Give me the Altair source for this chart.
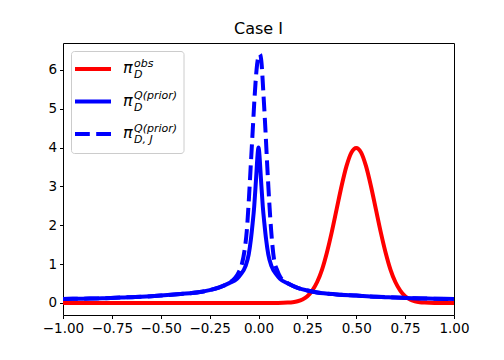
import altair as alt
import pandas as pd

# ---- data ----
x_obs = [-1.0, -0.5, 0.0, 0.1, 0.15, 0.175, 0.2, 0.225, 0.25, 0.275, 0.3, 0.325, 0.35, 0.375, 0.4,
         0.425, 0.45, 0.475, 0.5, 0.525, 0.55, 0.575, 0.6, 0.625, 0.65, 0.675, 0.7, 0.725, 0.75,
         0.775, 0.8, 0.825, 0.85, 0.9, 1.0]
y_obs = [0.0, 0.0, 0.0, 0.001, 0.009, 0.02, 0.044, 0.09, 0.175, 0.32, 0.54, 0.86, 1.30, 1.83, 2.42,
         3.01, 3.52, 3.87, 3.99, 3.87, 3.52, 3.01, 2.42, 1.83, 1.30, 0.86, 0.54, 0.32, 0.175,
         0.09, 0.044, 0.02, 0.009, 0.001, 0.0]

x_prior = [-1.0, -0.9, -0.8, -0.7, -0.6, -0.5, -0.4, -0.3, -0.25, -0.2, -0.15, -0.11, -0.09, -0.067,
           -0.05, -0.039, -0.03, -0.022, -0.015, -0.01, -0.005, 0.0, 0.005, 0.01, 0.015, 0.022, 0.03,
           0.039, 0.05, 0.067, 0.09, 0.11, 0.15, 0.2, 0.25, 0.3, 0.4, 0.5, 0.6, 0.7, 0.8, 0.9, 1.0]
y_prior = [0.10, 0.11, 0.12, 0.14, 0.16, 0.19, 0.23, 0.28, 0.33, 0.40, 0.51, 0.62, 0.74, 0.94,
           1.25, 1.63, 2.05, 2.48, 3.0, 3.4, 3.8, 4.0, 3.8, 3.4, 3.0, 2.48, 2.05,
           1.63, 1.25, 0.94, 0.74, 0.62, 0.50, 0.39, 0.32, 0.27, 0.22, 0.19, 0.16, 0.14, 0.12, 0.11, 0.10]

x_priorJ = [-1.0, -0.9, -0.8, -0.7, -0.6, -0.5, -0.4, -0.3, -0.25, -0.2, -0.15, -0.12, -0.1, -0.085,
            -0.07, -0.06, -0.05, -0.04, -0.03, -0.02, -0.01, 0.0, 0.007, 0.015, 0.025, 0.035, 0.045,
            0.055, 0.065, 0.08, 0.095, 0.11, 0.13, 0.15, 0.2, 0.25, 0.3, 0.4, 0.5, 0.6, 0.7, 0.8, 0.9, 1.0]
y_priorJ = [0.10, 0.11, 0.12, 0.14, 0.16, 0.19, 0.23, 0.28, 0.33, 0.40, 0.52, 0.64, 0.80, 1.0,
            1.4, 1.85, 2.6, 3.5, 4.4, 5.3, 6.0, 6.35, 6.4, 6.2, 5.4, 4.5, 3.5,
            2.6, 1.85, 1.1, 0.85, 0.68, 0.57, 0.51, 0.39, 0.32, 0.27, 0.22, 0.19, 0.16, 0.14, 0.12, 0.11, 0.10]

x_ticks = [-1.0, -0.75, -0.5, -0.25, 0.0, 0.25, 0.5, 0.75, 1.0]
y_ticks = [0, 1, 2, 3, 4, 5, 6]

title_text = "Case I"
legend_sup = ["obs", "Q(prior)", "Q(prior)"]
legend_sub = ["D", "D", "D, J"]
legend_colors = ["#ff0000", "#0000ff", "#0000ff"]

# ---- chart ----
FONT = "DejaVu Sans"
xscale = alt.Scale(domain=[-1, 1], nice=False, zero=False)
yscale = alt.Scale(domain=[-0.31, 6.69], nice=False, zero=False)
xaxis = alt.Axis(values=x_ticks, format=".2f", title=None, labelOverlap=False, labelBound=False,
                 labelFlush=False)
yaxis = alt.Axis(values=y_ticks, format="d", title=None, labelOverlap=False)


def curve(xs, ys, color, dash=None):
    kw = dict(color=color, strokeWidth=4, interpolate="monotone", clip=True)
    if dash:
        kw["strokeDash"] = dash
    df = pd.DataFrame({"x": xs, "y": ys})
    return alt.Chart(df).mark_line(**kw).encode(
        x=alt.X("x:Q", scale=xscale, axis=xaxis),
        y=alt.Y("y:Q", scale=yscale, axis=yaxis),
    )


layers = [
    curve(x_obs, y_obs, "#ff0000"),
    curve(x_prior, y_prior, "#0000ff"),
    curve(x_priorJ, y_priorJ, "#0000ff", [14.8, 6.4]),
]

one = pd.DataFrame({"a": [0]})
layers.append(
    alt.Chart(one).mark_rect(fill="white", fillOpacity=0.8, stroke="#cccccc", strokeWidth=1,
                             cornerRadius=3).encode(
        x=alt.value(8.5), x2=alt.value(121), y=alt.value(8.5), y2=alt.value(110.5))
)

row_y = [26, 58.5, 91]
for i in range(3):
    ry = row_y[i]
    rule_kw = dict(color=legend_colors[i], strokeWidth=4)
    if i == 2:
        rule_kw["strokeDash"] = [14.8, 6.4]
    layers.append(alt.Chart(one).mark_rule(**rule_kw).encode(
        x=alt.value(12), x2=alt.value(48), y=alt.value(ry)))
    layers.append(alt.Chart(one).mark_text(
        text="π", font=FONT, fontSize=16, fontStyle="italic", align="left", baseline="alphabetic",
        color="black").encode(x=alt.value(60), y=alt.value(ry + 4.3)))
    layers.append(alt.Chart(one).mark_text(
        text=legend_sup[i], font=FONT, fontSize=11, fontStyle="italic", align="left",
        baseline="alphabetic", color="black").encode(x=alt.value(71), y=alt.value(ry - 2.2)))
    layers.append(alt.Chart(one).mark_text(
        text=legend_sub[i], font=FONT, fontSize=11, fontStyle="italic", align="left",
        baseline="alphabetic", color="black").encode(x=alt.value(71), y=alt.value(ry + 9.3)))

chart = alt.layer(*layers).properties(
    width=391,
    height=272,
    title=alt.Title(title_text, fontSize=16, font=FONT, fontWeight="normal", color="black", offset=6),
    padding={"left": 55, "top": 35, "right": 42, "bottom": 37},
    autosize="none",
).configure_view(
    stroke="black", strokeWidth=1
).configure_axis(
    domain=False, grid=False, ticks=True, tickColor="black", tickWidth=1, tickSize=3.5,
    labelFont=FONT, labelFontSize=13.5, labelColor="black", labelPadding=3,
)

chart.save("out.html", embed_options={"renderer": "svg", "actions": False})
